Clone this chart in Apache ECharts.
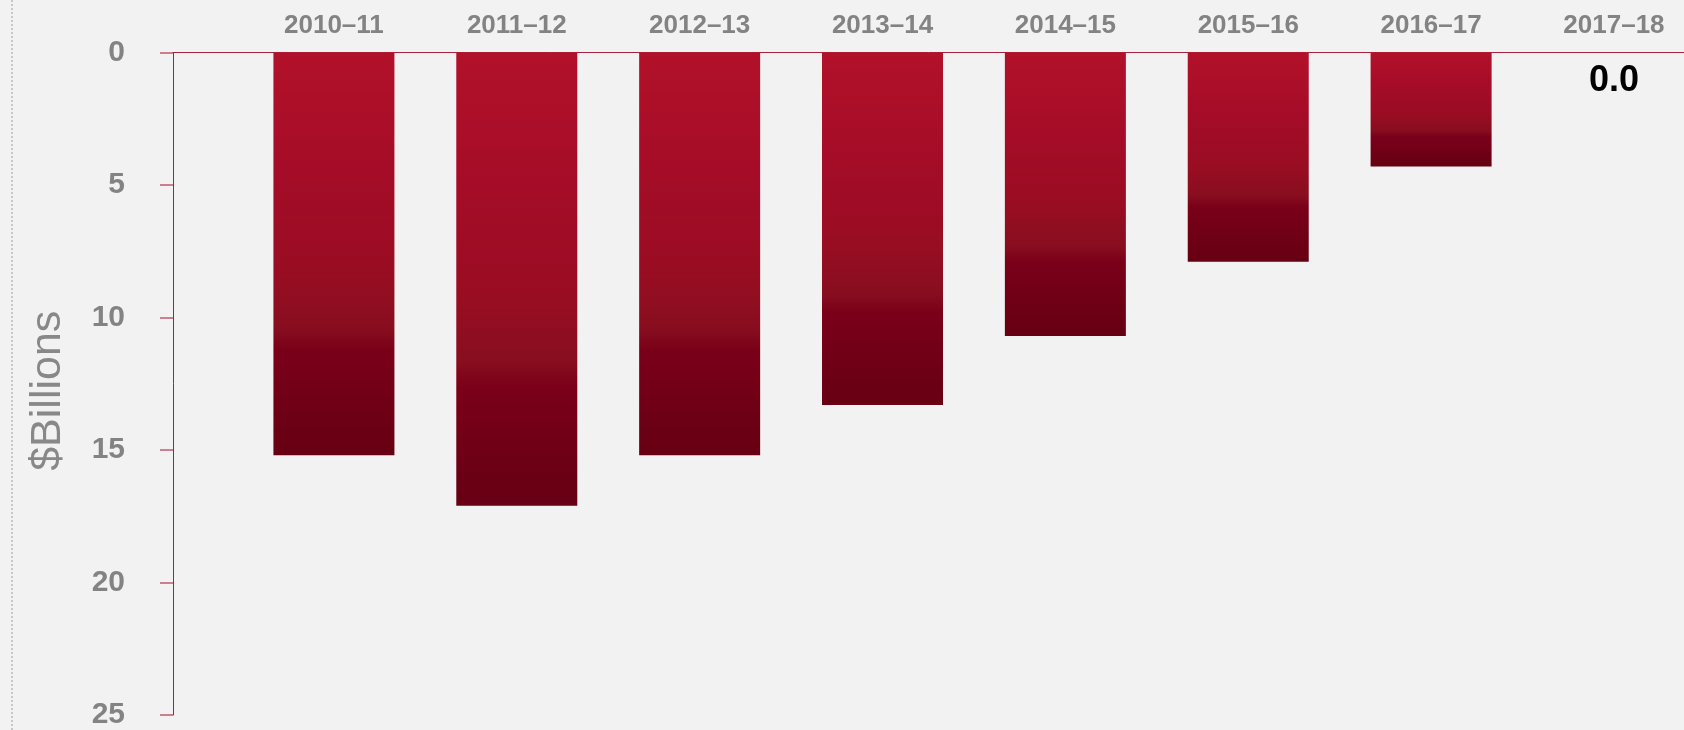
<!DOCTYPE html>
<html><head><meta charset="utf-8">
<script src="https://cdn.jsdelivr.net/npm/echarts@6/dist/echarts.min.js"></script>
<style>html,body{margin:0;padding:0;background:#F2F2F2;} #chart{width:1684px;height:730px;}</style>
</head><body><div id="chart"></div>
<script>
const categories = ['2010–11','2011–12','2012–13','2013–14','2014–15','2015–16','2016–17','2017–18'];
const values = [15.2, 17.1, 15.2, 13.3, 10.7, 7.9, 4.3, 0.0];
const yTickStep = 5;
const yMax = 25;

const FONT = "'Liberation Sans', Arial, sans-serif";
const chart = echarts.init(document.getElementById('chart'), null, {renderer: 'canvas'});
const barGradient = new echarts.graphic.LinearGradient(0, 0, 0, 1, [
  {offset: 0, color: '#B2112A'},
  {offset: 0.3, color: '#A50C27'},
  {offset: 0.55, color: '#980D22'},
  {offset: 0.68, color: '#880E1F'},
  {offset: 0.74, color: '#7A0019'},
  {offset: 1, color: '#660012'}
]);
chart.setOption({
  backgroundColor: '#F2F2F2',
  animation: false,
  grid: {left: 173, right: 0, top: 52.5, bottom: 12.5, containLabel: false},
  graphic: [{
    type: 'line', shape: {x1: 12, y1: 0, x2: 12, y2: 730},
    style: {stroke: '#9A9A9A', lineWidth: 1, lineDash: [2, 2]}, silent: true
  }],
  xAxis: {
    type: 'value', position: 'top', min: -0.88, max: 7.383,
    axisLine: {show: true, onZero: false, lineStyle: {color: '#A8213C', width: 1}},
    axisTick: {show: false},
    splitLine: {show: false},
    axisLabel: {
      customValues: categories.map((c, i) => i),
      formatter: v => categories[Math.round(v)],
      color: '#838383', fontWeight: 'bold', fontSize: 26, fontFamily: FONT, margin: 14
    }
  },
  yAxis: {
    type: 'value', inverse: true, min: 0, max: yMax, interval: yTickStep,
    name: '$Billions', nameLocation: 'middle', nameGap: 103,
    nameTextStyle: {color: '#888888', fontSize: 43, fontFamily: FONT, padding: [0, 14, 0, 0]},
    axisLine: {show: true, onZero: false, lineStyle: {color: '#A8213C', width: 1}},
    axisTick: {show: true, length: 13, lineStyle: {color: '#C25A6E', width: 1.5}},
    splitLine: {show: false},
    axisLabel: {color: '#838383', fontWeight: 'bold', fontSize: 30, fontFamily: FONT, margin: 48}
  },
  series: [{
    type: 'bar', barWidth: 121,
    itemStyle: {color: barGradient},
    label: {
      show: false, position: 'bottom', distance: 11,
      color: '#000', fontWeight: 'bold', fontSize: 36, fontFamily: FONT,
      formatter: p => p.value[1].toFixed(1)
    },
    data: values.map((v, i) => ({value: [i, v], label: {show: v === 0}}))
  }]
});
</script></body></html>
